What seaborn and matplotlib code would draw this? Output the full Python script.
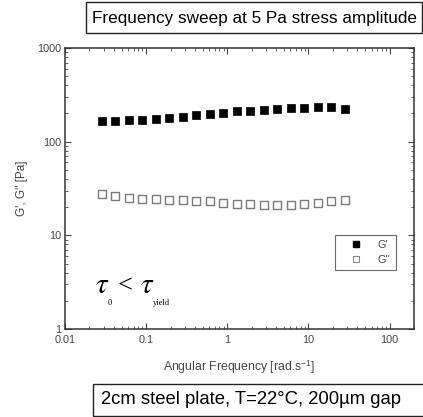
import matplotlib
matplotlib.use("Agg")
import matplotlib.pyplot as plt
import seaborn as sns
import pandas as pd
from matplotlib.patches import Rectangle
from matplotlib.lines import Line2D

# ---- data ----
freq = [0.0282, 0.0414, 0.0608, 0.0893, 0.131, 0.192, 0.282, 0.414, 0.608,
        0.893, 1.31, 1.92, 2.82, 4.14, 6.08, 8.93, 13.1, 19.2, 28.2]
g_storage = [166, 166, 169, 172, 176, 180, 185, 191, 198, 204, 211, 214, 218,
             223, 227, 231, 233, 235, 225]
g_loss = [27.3, 26.3, 25.1, 24.6, 24.3, 24.0, 23.8, 23.3, 23.0, 22.4, 21.6,
          21.5, 21.2, 21.1, 21.1, 21.4, 22.2, 23.2, 23.8]
series_names = ["G'", "G''"]
x_ticks = [0.01, 0.1, 1, 10, 100]
x_ticklabels = ["0.01", "0.1", "1", "10", "100"]
y_ticks = [1, 10, 100, 1000]
y_ticklabels = ["1", "10", "100", "1000"]
title_top = "Frequency sweep at 5 Pa stress amplitude"
title_bottom = "2cm steel plate, T=22°C, 200µm gap"
x_label = "Angular Frequency [rad.s$^{\\mathregular{-1}}$]"
y_label = "G', G'' [Pa]"

df_s = pd.DataFrame({"freq": freq, "G": g_storage})
df_l = pd.DataFrame({"freq": freq, "G": g_loss})

sns.set_style("ticks")
plt.rcParams["font.family"] = ["Liberation Sans", "DejaVu Sans"]
plt.rcParams["mathtext.fontset"] = "stix"

W, H = 423, 417
fig = plt.figure(figsize=(W / 100, H / 100), dpi=100)
ax = fig.add_axes([65 / W, 1 - 329 / H, (414 - 65) / W, (329 - 48) / H])

sns.scatterplot(data=df_s, x="freq", y="G", ax=ax, marker="s", s=36,
                color="black", edgecolor="black", linewidth=0.5)
sns.scatterplot(data=df_l, x="freq", y="G", ax=ax, marker="s", s=30,
                color="white", edgecolor="#7a7a7a", linewidth=1.0)

ax.set_xscale("log")
ax.set_yscale("log")
ax.set_xlim(0.01, 200)
ax.set_ylim(1, 1000)
ax.set_xticks(x_ticks)
ax.set_xticklabels(x_ticklabels)
ax.set_yticks(y_ticks)
ax.set_yticklabels(y_ticklabels)

for sp in ax.spines.values():
    sp.set_visible(True)
    sp.set_linewidth(1.1)
    sp.set_color("#333333")

ax.tick_params(which="both", direction="in", top=True, right=True,
               color="#444444", labelcolor="#444444", labelsize=7.8)
ax.tick_params(which="major", length=4, width=0.8, pad=3)
ax.tick_params(which="minor", length=2.5, width=0.6)
ax.tick_params(axis="x", which="major", pad=4)

ax.set_xlabel(x_label, fontsize=8.8, color="#444444", labelpad=10)
ax.set_ylabel(y_label, fontsize=8.5, color="#444444", labelpad=6)

# legend
handles = [
    Line2D([], [], linestyle="none", marker="s", markersize=4,
           markerfacecolor="black", markeredgecolor="black"),
    Line2D([], [], linestyle="none", marker="s", markersize=4,
           markerfacecolor="white", markeredgecolor="#888888", markeredgewidth=0.8),
]
leg = ax.legend(handles, series_names, loc="upper right",
                bbox_to_anchor=(0.948, 0.335), fontsize=7.8,
                frameon=True, fancybox=False, handletextpad=0.6,
                borderpad=0.5, labelspacing=0.4, handlelength=2.8,
                borderaxespad=0)
leg.get_frame().set_edgecolor("#444444")
leg.get_frame().set_linewidth(0.8)
for t in leg.get_texts():
    t.set_color("#444444")

# tau annotation (pieces placed in figure pixels)
def px(x, y):
    return x / W, 1 - y / H

tau_kw = dict(fontsize=21, color="black", ha="left", va="baseline")
sub_kw = dict(fontsize=6, color="black", ha="left", va="baseline",
              family=["Liberation Serif", "DejaVu Serif"])
fig.text(*px(95, 293), r"$\tau$", **tau_kw)
fig.text(*px(108, 305), "0", **sub_kw)
fig.text(*px(118, 292), "<", fontsize=19, color="black", ha="left",
         va="baseline", family=["Liberation Serif", "DejaVu Serif"])
fig.text(*px(140, 293), r"$\tau$", **tau_kw)
fig.text(*px(153, 305), "yield", **sub_kw)

# top box
fig.patches.append(Rectangle((86 / W, 1 - 33 / H), (422 - 86) / W, 31 / H,
                             transform=fig.transFigure, fill=False,
                             edgecolor="#222222", linewidth=1.0))
fig.text(92 / W, 1 - 18 / H, title_top, fontsize=12.3, color="black",
         ha="left", va="center")

# bottom box
fig.patches.append(Rectangle((93 / W, 1 - 416 / H), (440 - 93) / W, 32 / H,
                             transform=fig.transFigure, fill=False,
                             edgecolor="#222222", linewidth=1.0))
fig.text(101 / W, 1 - 400 / H, title_bottom, fontsize=13.3, color="black",
         ha="left", va="center")

fig.savefig("out.png", dpi=100)
